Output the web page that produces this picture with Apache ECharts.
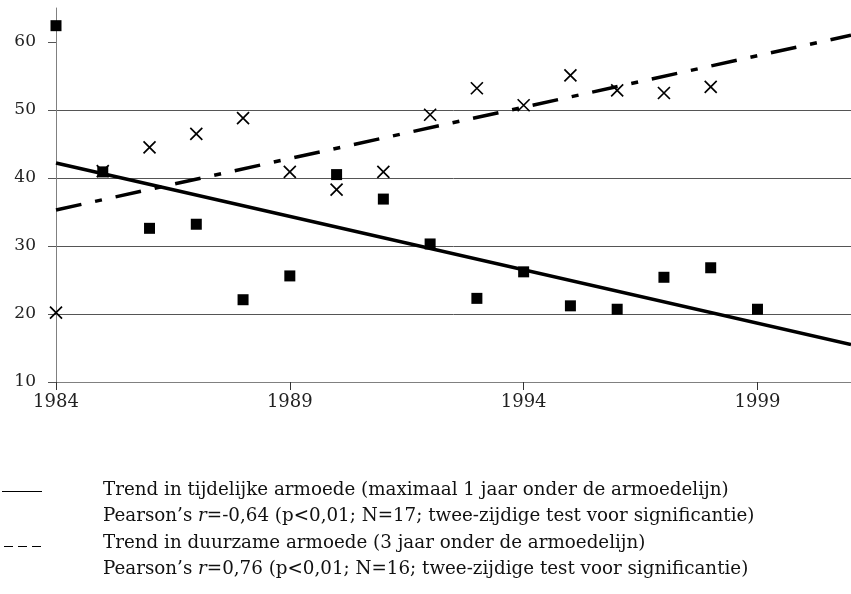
<!DOCTYPE html>
<html>
<head>
<meta charset="utf-8">
<script src="https://cdn.jsdelivr.net/npm/echarts@6/dist/echarts.min.js"></script>
<style>
  html, body { margin: 0; padding: 0; background: #fff; }
  #chart { width: 851px; height: 594px; }
</style>
</head>
<body>
<div id="chart"></div>
<script>
// jaren en waarden
var years = [1984, 1985, 1986, 1987, 1988, 1989, 1990, 1991, 1992, 1993, 1994, 1995, 1996, 1997, 1998, 1999];
// tijdelijke armoede (blokjes)
var tijdelijk = [62.4, 40.9, 32.6, 33.2, 22.1, 25.6, 40.5, 36.9, 30.3, 22.3, 26.2, 21.2, 20.7, 25.4, 26.8, 20.7];
// duurzame armoede (kruisjes)
var duurzaamYears = [1984, 1985, 1986, 1987, 1988, 1989, 1990, 1991, 1992, 1993, 1994, 1995, 1996, 1997, 1998];
var duurzaam = [20.2, 41.0, 44.5, 46.5, 48.8, 40.9, 38.3, 40.9, 49.3, 53.2, 50.7, 55.1, 52.9, 52.5, 53.4];
// trendlijnen (begin- en eindpunt)
var trendTijdelijk = [[1984, 42.2], [2001, 15.5]];
var trendDuurzaam = [[1984, 35.3], [2001, 61.0]];
var xTicks = [1984, 1989, 1994, 1999];
var yTicks = [10, 20, 30, 40, 50, 60];

function pairs(xs, ys) {
    var out = [];
    for (var i = 0; i < ys.length; i++) {
        out.push([xs[i], ys[i]]);
    }
    return out;
}

var font = '"DejaVu Serif", "Liberation Serif", serif';
var legendX = 103;
var legendFont = 18.3;

var option = {
    animation: false,
    backgroundColor: '#fff',
    grid: { left: 56, right: -6, top: 8, bottom: 212 },
    xAxis: {
        type: 'value',
        min: 1984,
        max: 2001,
        interval: 5,
        axisLine: { show: true, lineStyle: { color: '#808080', width: 1 } },
        axisTick: { show: true, length: 8, lineStyle: { color: '#333' }, customValues: xTicks },
        axisLabel: {
            customValues: xTicks, color: '#222', fontFamily: font, fontSize: 18, margin: 11,
            formatter: function (v) { return String(v); }
        },
        splitLine: { show: false }
    },
    yAxis: {
        type: 'value',
        min: 10,
        max: 65,
        interval: 10,
        axisLine: { show: true, lineStyle: { color: '#808080', width: 1 } },
        axisTick: { show: true, length: 8, lineStyle: { color: '#555' }, customValues: yTicks },
        axisLabel: { customValues: yTicks, color: '#222', fontFamily: font, fontSize: 17, margin: 20 },
        splitLine: { show: true, showMaxLine: false, lineStyle: { color: '#555', width: 1 } }
    },
    series: [
        {
            name: 'Trend tijdelijk',
            type: 'line',
            data: trendTijdelijk,
            symbol: 'none',
            lineStyle: { color: '#000', width: 3.5 },
            z: 3
        },
        {
            name: 'Trend duurzaam',
            type: 'line',
            data: trendDuurzaam,
            symbol: 'none',
            lineStyle: { color: '#000', width: 3.5, type: [26, 14, 7, 14] },
            z: 3
        },
        {
            name: 'Duurzame armoede',
            type: 'scatter',
            data: pairs(duurzaamYears, duurzaam),
            symbol: 'path://M0,0L10,10M10,0L0,10',
            symbolSize: 12,
            itemStyle: { color: 'transparent', borderColor: '#000', borderWidth: 1.7, opacity: 1 },
            z: 4
        },
        {
            name: 'Tijdelijke armoede',
            type: 'scatter',
            data: pairs(years, tijdelijk),
            symbol: 'rect',
            symbolSize: 11,
            itemStyle: { color: '#000', opacity: 1 },
            z: 5
        }
    ],
    graphic: [
        { type: 'line', shape: { x1: 2, y1: 491.5, x2: 42, y2: 491.5 }, style: { stroke: '#000', lineWidth: 1 } },
        { type: 'line', shape: { x1: 4, y1: 546.5, x2: 42, y2: 546.5 }, style: { stroke: '#000', lineWidth: 1, lineDash: [9, 5] } },
        {
            type: 'text', left: legendX, top: 481,
            style: { text: 'Trend in tijdelijke armoede (maximaal 1 jaar onder de armoedelijn)', font: legendFont + 'px ' + font, fill: '#111' }
        },
        {
            type: 'text', left: legendX, top: 507,
            style: {
                text: '{a|Pearson\u2019s }{i|r}{a|=-0,64 (p<0,01; N=17; twee-zijdige test voor significantie)}',
                rich: {
                    a: { font: legendFont + 'px ' + font, fill: '#111' },
                    i: { font: 'italic ' + legendFont + 'px ' + font, fill: '#111' }
                }
            }
        },
        {
            type: 'text', left: legendX, top: 534,
            style: { text: 'Trend in duurzame armoede (3 jaar onder de armoedelijn)', font: legendFont + 'px ' + font, fill: '#111' }
        },
        {
            type: 'text', left: legendX, top: 560,
            style: {
                text: '{a|Pearson\u2019s }{i|r}{a|=0,76 (p<0,01; N=16; twee-zijdige test voor significantie)}',
                rich: {
                    a: { font: legendFont + 'px ' + font, fill: '#111' },
                    i: { font: 'italic ' + legendFont + 'px ' + font, fill: '#111' }
                }
            }
        }
    ]
};

var myChart = echarts.init(document.getElementById('chart'));
myChart.setOption(option);
</script>
</body>
</html>
